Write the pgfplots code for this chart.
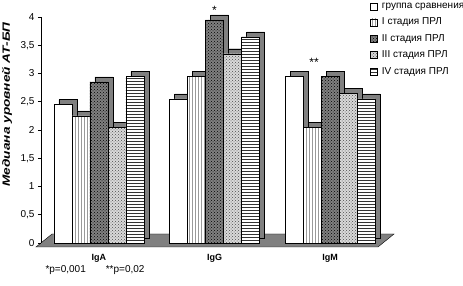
\documentclass[border=0pt]{standalone}
\usepackage{pgfplots}
\pgfplotsset{compat=1.18}
\usepackage{pgfplotstable}
\usepackage{fontspec}
\setmainfont{Liberation Sans}
\newfontfamily\widefont[FakeStretch=1.3]{Liberation Sans}
\usetikzlibrary{patterns}
\pgfplotstableread{
x a b c d e
0 2.45 2.25 2.85 2.05 2.95
1 2.55 2.95 3.95 3.35 3.65
2 2.95 2.05 2.95 2.65 2.55
}\data
\pgfplotsset{sh/.style={fill=black!50, draw=black, line width=0.4pt, xshift=5pt, yshift=5pt, forget plot}}
\begin{document}
\begin{tikzpicture}[x=1pt,y=1pt]
\useasboundingbox (0,0) rectangle (463,286);
\filldraw[fill=black!50, draw=black, line width=0.4pt] (36,39) -- (378,39) -- (394,52) -- (52,52) -- cycle;
\begin{axis}[
  at={(41pt,43pt)}, anchor=south west,
  scale only axis, width=347pt, height=226pt,
  xmin=-0.5, xmax=2.5, ymin=0, ymax=4,
  ybar, bar width=18pt,
  xtick={0,1,2}, xticklabels={IgA,IgG,IgM},
  ytick={0,0.5,...,4},
  axis y line*=left, axis x line*=bottom,
  x axis line style={draw=none}, xtick style={draw=none},
  y axis line style={-, line width=0.5pt},
  tick align=outside, major tick length=3pt,
  ytick style={black, line width=0.5pt},
  clip=false,
  /pgf/number format/use comma,
  /pgf/number format/assume math mode=true,
  yticklabel style={font=\fontsize{10}{11}\selectfont},
  xticklabel style={font=\bfseries\fontsize{9}{10}\selectfont, yshift=-5pt},
  ylabel={Медиана уровней АТ-БП},
  ylabel style={font=\widefont\bfseries\itshape\fontsize{10.5}{11}\selectfont, at={(axis description cs:-0.098,0.613)}, anchor=center},
  legend style={at={(axis description cs:0.948,1.07)}, anchor=north west, draw=none, fill=none,
    font=\fontsize{10}{11}\selectfont, row sep=4pt, inner sep=0pt, outer sep=0pt},
  legend cell align=left,
  legend image code/.code={\draw[#1, draw=black, line width=0.4pt] (0pt,-3.5pt) rectangle (7pt,3.5pt); \path (9.5pt,0pt);},
]
\addplot[sh, bar shift=-36pt] table[x=x,y=a] {\data};
\addplot[fill=white, draw=black, line width=0.4pt, bar shift=-36pt] table[x=x,y=a] {\data};
\addlegendentry{группа сравнения}
\addplot[sh, bar shift=-18pt] table[x=x,y=b] {\data};
\addplot[fill=white, draw=black, line width=0.4pt, bar shift=-18pt, postaction={pattern=vertical lines, pattern color=black!40}] table[x=x,y=b] {\data};
\addlegendentry{I стадия ПРЛ}
\addplot[sh, bar shift=0pt] table[x=x,y=c] {\data};
\addplot[fill=black!50, draw=black, line width=0.6pt, bar shift=0pt, postaction={pattern=crosshatch dots, pattern color=black}] table[x=x,y=c] {\data};
\addlegendentry{II стадия ПРЛ}
\addplot[sh, bar shift=18pt] table[x=x,y=d] {\data};
\addplot[fill=black!15, draw=black, line width=0.4pt, bar shift=18pt, postaction={pattern=crosshatch dots, pattern color=black!70}] table[x=x,y=d] {\data};
\addlegendentry{III стадия ПРЛ}
\addplot[sh, bar shift=36pt] table[x=x,y=e] {\data};
\addplot[fill=white, draw=black, line width=0.4pt, bar shift=36pt, postaction={pattern=horizontal lines, pattern color=black!80}] table[x=x,y=e] {\data};
\addlegendentry{IV стадия ПРЛ}
\node[font=\fontsize{12}{12}\selectfont, anchor=south] at (axis cs:1,3.95) [yshift=2pt] {*};
\node[font=\fontsize{12}{12}\selectfont] at (axis cs:2,3.2) [xshift=-16pt] {**};
\end{axis}
\node[anchor=west, font=\fontsize{10}{11}\selectfont] at (42,16) {*p=0,001\quad\quad **p=0,02};
\end{tikzpicture}
\end{document}
